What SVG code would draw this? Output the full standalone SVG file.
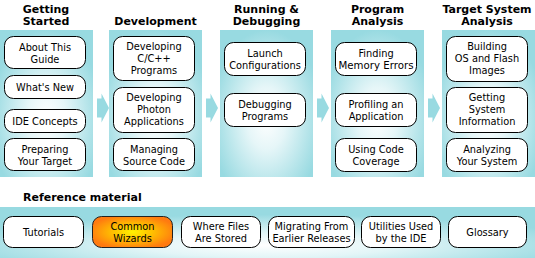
<svg xmlns="http://www.w3.org/2000/svg" width="535" height="258" viewBox="0 0 535 258">
<defs>
<radialGradient id="pg" cx="0.5" cy="0.6" r="0.6">
<stop offset="0" stop-color="#ffffff"/>
<stop offset="0.35" stop-color="#e6f6f8"/>
<stop offset="1" stop-color="#98dae1"/>
</radialGradient>
<radialGradient id="bg" cx="0.5" cy="0.75" r="0.6">
<stop offset="0" stop-color="#ffffff"/>
<stop offset="0.4" stop-color="#e2f5f7"/>
<stop offset="1" stop-color="#98dae1"/>
</radialGradient>
<radialGradient id="og" cx="0.5" cy="0.5" r="0.55">
<stop offset="0" stop-color="#fff200"/>
<stop offset="0.45" stop-color="#ffc000"/>
<stop offset="1" stop-color="#ff7a10"/>
</radialGradient>
<path id="arr" d="M0,5 H4.5 V0 L12,14.5 L4.5,29 V24 H0 Z"/>
</defs>
<style>
.panel{fill:url(#pg)}
.band{fill:url(#bg)}
.box{fill:#ffffff;stroke:#000000;stroke-width:1}
.hot{fill:url(#og);stroke:#222222;stroke-width:1}
.hd{font-family:"DejaVu Sans",Verdana,sans-serif;font-size:11px;font-weight:bold;fill:#000000;text-anchor:middle}
.hl{font-family:"DejaVu Sans",Verdana,sans-serif;font-size:11px;font-weight:bold;fill:#000000}
.t{font-family:"DejaVu Sans",Verdana,sans-serif;font-size:9.8px;fill:#000000;text-anchor:middle}
.arrow{fill:#98dae1}
</style>
<rect width="535" height="258" fill="#ffffff"/>

<g id="col-getting-started">
<rect class="panel" x="0" y="30" width="93" height="147"/>
<text class="hd" x="46" y="12.5">Getting</text>
<text class="hd" x="46" y="25">Started</text>
</g>
<g id="col-development">
<rect class="panel" x="109" y="30" width="93" height="147"/>
<text class="hd" x="155.5" y="25">Development</text>
</g>
<g id="col-running">
<rect class="panel" x="220" y="30" width="93" height="147"/>
<text class="hd" x="266.5" y="12.5">Running &amp;</text>
<text class="hd" x="266.5" y="25">Debugging</text>
</g>
<g id="col-program-analysis">
<rect class="panel" x="331" y="30" width="93" height="147"/>
<text class="hd" x="377.5" y="12.5">Program</text>
<text class="hd" x="377.5" y="25">Analysis</text>
</g>
<g id="col-target">
<rect class="panel" x="442" y="30" width="93" height="147"/>
<text class="hd" x="487" y="12.5">Target System</text>
<text class="hd" x="487" y="25">Analysis</text>
</g>

<g id="connectors">
<use href="#arr" class="arrow" x="97" y="93.5"/>
<use href="#arr" class="arrow" x="206" y="93.5"/>
<use href="#arr" class="arrow" x="317" y="93.5"/>
<use href="#arr" class="arrow" x="428" y="93.5"/>
</g>

<g id="about">
<rect class="box" x="4.5" y="36.5" width="81" height="32" rx="9"/>
<text class="t" x="45" y="50.5">About This</text>
<text class="t" x="45" y="62.5">Guide</text>
</g>
<g id="whatsnew">
<rect class="box" x="4.5" y="75.5" width="81" height="23" rx="9"/>
<text class="t" x="45" y="90.5">What's New</text>
</g>
<g id="ideconcepts">
<rect class="box" x="4.5" y="109.5" width="81" height="23" rx="9"/>
<text class="t" x="45" y="124.5">IDE Concepts</text>
</g>
<g id="preparing">
<rect class="box" x="4.5" y="138.5" width="81" height="32" rx="9"/>
<text class="t" x="45" y="152.5">Preparing</text>
<text class="t" x="45" y="164.5">Your Target</text>
</g>

<g id="devcpp">
<rect class="box" x="113.5" y="36.5" width="81" height="44" rx="9"/>
<text class="t" x="154" y="49.5">Developing</text>
<text class="t" x="154" y="61.5">C/C++</text>
<text class="t" x="154" y="73.5">Programs</text>
</g>
<g id="photon">
<rect class="box" x="113.5" y="87.5" width="81" height="45" rx="9"/>
<text class="t" x="154" y="101">Developing</text>
<text class="t" x="154" y="113">Photon</text>
<text class="t" x="154" y="125">Applications</text>
</g>
<g id="managing">
<rect class="box" x="113.5" y="138.5" width="81" height="32" rx="9"/>
<text class="t" x="154" y="152.5">Managing</text>
<text class="t" x="154" y="164.5">Source Code</text>
</g>

<g id="launch">
<rect class="box" x="224.5" y="42.5" width="81" height="33" rx="9"/>
<text class="t" x="265" y="57">Launch</text>
<text class="t" x="265" y="69">Configurations</text>
</g>
<g id="debugging">
<rect class="box" x="224.5" y="93.5" width="81" height="33" rx="9"/>
<text class="t" x="265" y="108">Debugging</text>
<text class="t" x="265" y="120">Programs</text>
</g>

<g id="memory">
<rect class="box" x="335.5" y="42.5" width="81" height="33" rx="9"/>
<text class="t" x="376" y="57">Finding</text>
<text class="t" x="376" y="69" textLength="75" lengthAdjust="spacingAndGlyphs">Memory Errors</text>
</g>
<g id="profiling">
<rect class="box" x="335.5" y="93.5" width="81" height="33" rx="9"/>
<text class="t" x="376" y="108">Profiling an</text>
<text class="t" x="376" y="120">Application</text>
</g>
<g id="coverage">
<rect class="box" x="335.5" y="138.5" width="81" height="33" rx="9"/>
<text class="t" x="376" y="153">Using Code</text>
<text class="t" x="376" y="165">Coverage</text>
</g>

<g id="building">
<rect class="box" x="446.5" y="36.5" width="81" height="45" rx="9"/>
<text class="t" x="487" y="50">Building</text>
<text class="t" x="487" y="62">OS and Flash</text>
<text class="t" x="487" y="74">Images</text>
</g>
<g id="sysinfo">
<rect class="box" x="446.5" y="87.5" width="81" height="45" rx="9"/>
<text class="t" x="487" y="101">Getting</text>
<text class="t" x="487" y="113">System</text>
<text class="t" x="487" y="125">Information</text>
</g>
<g id="analyzing">
<rect class="box" x="446.5" y="138.5" width="81" height="33" rx="9"/>
<text class="t" x="487" y="153">Analyzing</text>
<text class="t" x="487" y="165">Your System</text>
</g>

<g id="reference">
<text class="hl" x="23" y="201">Reference material</text>
<rect class="band" x="0" y="207" width="535" height="51"/>
</g>
<g id="tutorials">
<rect class="box" x="3.5" y="216.5" width="80" height="31" rx="9"/>
<text class="t" x="43.5" y="235.5">Tutorials</text>
</g>
<g id="wizards">
<rect class="hot" x="92.5" y="216.5" width="80" height="31" rx="9"/>
<text class="t" x="132.5" y="229.5">Common</text>
<text class="t" x="132.5" y="241.5">Wizards</text>
</g>
<g id="wherefiles">
<rect class="box" x="181.5" y="216.5" width="79" height="31" rx="9"/>
<text class="t" x="221" y="229.5">Where Files</text>
<text class="t" x="221" y="241.5">Are Stored</text>
</g>
<g id="migrating">
<rect class="box" x="268.5" y="216.5" width="86" height="31" rx="9"/>
<text class="t" x="311.5" y="229.5">Migrating From</text>
<text class="t" x="311.5" y="241.5">Earlier Releases</text>
</g>
<g id="utilities">
<rect class="box" x="361.5" y="216.5" width="79" height="31" rx="9"/>
<text class="t" x="401" y="229.5">Utilities Used</text>
<text class="t" x="401" y="241.5">by the IDE</text>
</g>
<g id="glossary">
<rect class="box" x="448.5" y="216.5" width="78" height="31" rx="9"/>
<text class="t" x="487.5" y="235.5">Glossary</text>
</g>
</svg>
